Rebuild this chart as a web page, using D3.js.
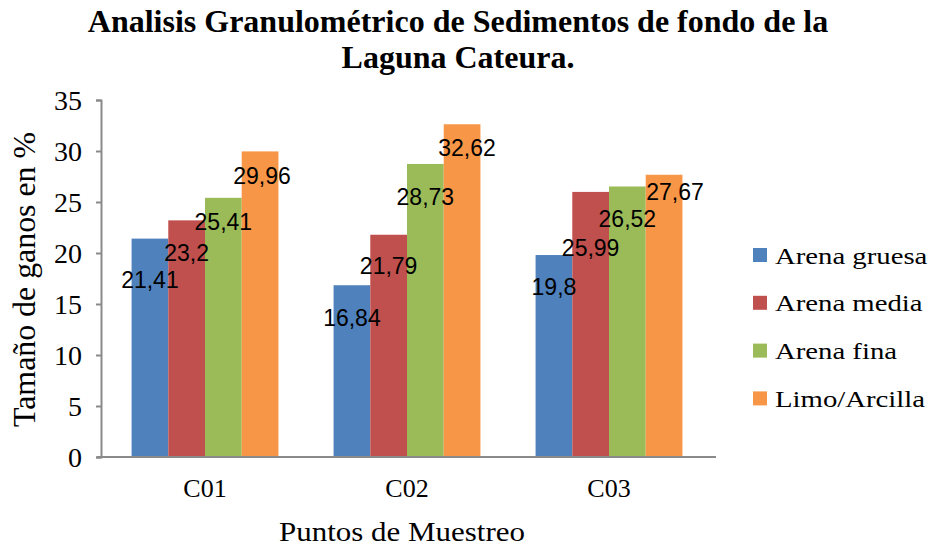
<!DOCTYPE html>
<html><head><meta charset="utf-8">
<script src="https://cdn.jsdelivr.net/npm/d3@7"></script>
<style>
html,body{margin:0;padding:0;background:#fff;}
svg{display:block;}
</style></head>
<body>
<svg id="chart" width="934" height="546"></svg>
<script>
// ---- data ----
const categories = ["C01", "C02", "C03"];
const seriesNames = ["Arena gruesa", "Arena media", "Arena fina", "Limo/Arcilla"];
const arenaGruesa = [21.41, 16.84, 19.8];
const arenaMedia  = [23.2, 21.79, 25.99];
const arenaFina   = [25.41, 28.73, 26.52];
const limoArcilla = [29.96, 32.62, 27.67];
const yTicks = [0, 5, 10, 15, 20, 25, 30, 35];
const titleLines = ["Analisis Granulométrico de Sedimentos de fondo de la", "Laguna Cateura."];
const yTitle = "Tamaño de ganos en %";
const xTitle = "Puntos de Muestreo";

// ---- style / layout ----
const colors = ["#4F81BD", "#C0504D", "#9BBB59", "#F79646"];
// manual label nudges (px) as in the reference: [dx, dy below bar top]
const labelNudge = [
  [[0,41],[0,33],[0,24],[2,25]],
  [[0,33],[0,31],[0,33],[5,24]],
  [[0,32],[0,56],[0,32],[11,17]]
];

const seriesValues = [arenaGruesa, arenaMedia, arenaFina, limoArcilla];
const svg = d3.select("#chart");

const x0 = d3.scaleBand().domain(categories).range([104, 710]).paddingInner(0).paddingOuter(0);
const groupW = x0.bandwidth() * 0.727;
const x1 = d3.scaleBand().domain(seriesNames).range([0, groupW]).padding(0);
const y = d3.scaleLinear().domain([0, 35]).range([457, 100]);

const serif = "'Liberation Serif','Times New Roman',serif";
const axisColor = "#8a8a8a";

// title
svg.append("g").selectAll("text").data(titleLines).join("text")
  .attr("x", 458).attr("y", (d,i) => 32 + i*36)
  .attr("text-anchor", "middle")
  .style("font-family", serif).style("font-weight", "bold").style("font-size", "32px")
  .text(d => d);

// bars
const groups = svg.append("g").selectAll("g").data(categories).join("g")
  .attr("transform", c => `translate(${x0(c) + (x0.bandwidth()-groupW)/2},0)`);

groups.selectAll("rect").data((c,ci) => seriesNames.map((s,si) => ({s, si, ci, v: seriesValues[si][ci]})))
  .join("rect")
  .attr("x", d => x1(d.s)).attr("width", x1.bandwidth())
  .attr("y", d => y(d.v)).attr("height", d => y(0) - y(d.v))
  .attr("fill", d => colors[d.si]);

// y axis
const yAxis = d3.axisLeft(y).tickValues(yTicks).tickSize(5).tickPadding(14).tickFormat(d3.format("d"));
const gy = svg.append("g").attr("transform", "translate(101,0)").call(yAxis);
gy.select(".domain").attr("stroke", axisColor).attr("stroke-width", 2);
gy.selectAll(".tick line").attr("stroke", axisColor).attr("stroke-width", 2);
gy.selectAll(".tick text").style("font-family", serif).style("font-size", "28px").attr("fill", "#000").attr("dy", "0.34em");

// x axis
const xAxis = d3.axisBottom(x0).tickSize(0).tickPadding(22);
const gx = svg.append("g").attr("transform", "translate(0,457)").call(xAxis);
gx.select(".domain").attr("d", "M97,0H716").attr("stroke", axisColor).attr("stroke-width", 2);
gx.selectAll(".tick text").style("font-family", serif).style("font-size", "26px").attr("fill", "#000");

// data labels
groups.selectAll("text.lbl").data((c,ci) => seriesNames.map((s,si) => ({s, si, ci, v: seriesValues[si][ci]})))
  .join("text").attr("class", "lbl")
  .attr("x", d => x1(d.s) + x1.bandwidth()/2 + labelNudge[d.ci][d.si][0])
  .attr("y", d => y(d.v) + labelNudge[d.ci][d.si][1])
  .attr("dy", "0.35em")
  .attr("text-anchor", "middle")
  .style("font-family", "'Liberation Sans',Arial,sans-serif").style("font-size", "23px")
  .text(d => String(d.v).replace(".", ","));

// axis titles
svg.append("text").attr("transform", "translate(34.5,279.5) rotate(-90)")
  .attr("text-anchor", "middle")
  .attr("textLength", 295).attr("lengthAdjust", "spacingAndGlyphs")
  .style("font-family", serif).style("font-size", "32px").text(yTitle);
svg.append("text").attr("x", 402).attr("y", 541)
  .attr("text-anchor", "middle")
  .attr("textLength", 246).attr("lengthAdjust", "spacingAndGlyphs")
  .style("font-family", serif).style("font-size", "27px").text(xTitle);

// legend
const leg = svg.append("g").selectAll("g").data(seriesNames).join("g")
  .attr("transform", (d,i) => `translate(753,${255.5 + i*47.8})`);
leg.append("rect").attr("x", 0).attr("y", -7.5).attr("width", 14).attr("height", 14).attr("fill", (d,i) => colors[i]);
leg.append("text").attr("transform", "translate(22,0) scale(1.25,1)").attr("dy", "0.35em")
  .style("font-family", serif).style("font-size", "23px").text(d => d);
</script>
</body></html>
